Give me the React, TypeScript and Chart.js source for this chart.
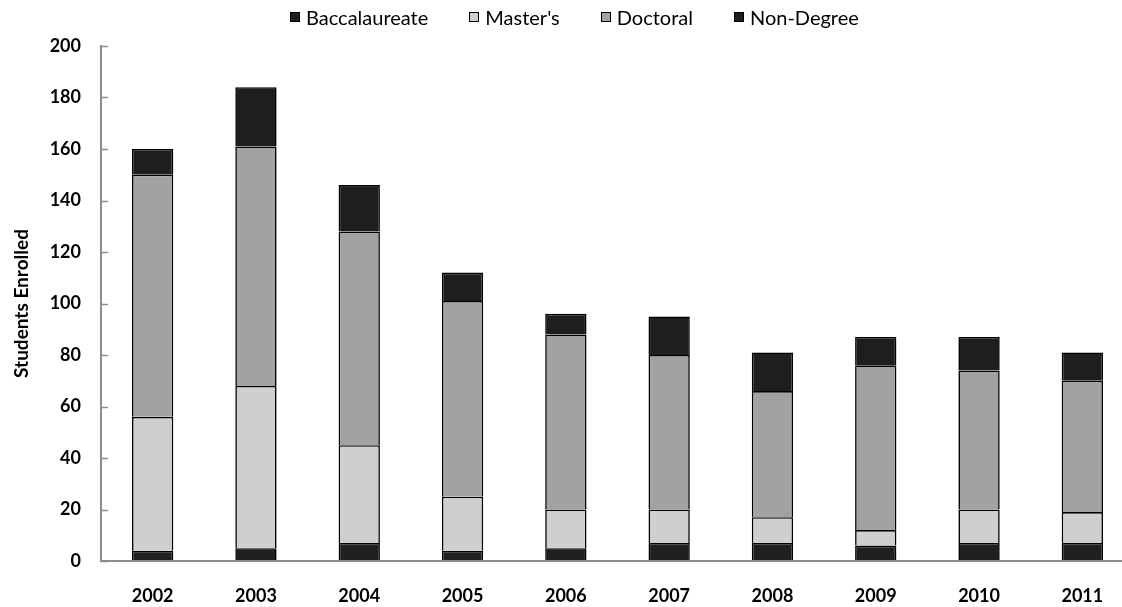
import React, { useEffect, useRef } from "react";
import { Chart, registerables } from "chart.js";

Chart.register(...registerables);

const years = ["2002", "2003", "2004", "2005", "2006", "2007", "2008", "2009", "2010", "2011"];
const baccalaureate = [4, 5, 7, 4, 5, 7, 7, 6, 7, 7];
const masters = [52, 63, 38, 21, 15, 13, 10, 6, 13, 12];
const doctoral = [94, 93, 83, 76, 68, 60, 49, 64, 54, 51];
const nonDegree = [10, 23, 18, 11, 8, 15, 15, 11, 13, 11];
const yTicks = [0, 20, 40, 60, 80, 100, 120, 140, 160, 180, 200];

const seriesNames = ["Baccalaureate", "Master's", "Doctoral", "Non-Degree"];
const seriesColors = ["#221f20", "#cfcfcf", "#a2a2a2", "#1e1e1e"];
const seriesData = [baccalaureate, masters, doctoral, nonDegree];

const FONT = "Lato, 'Open Sans', 'DejaVu Sans', sans-serif";

const innerTicks = {
  id: "innerTicks",
  afterDraw(chart: any) {
    const y = chart.scales.y;
    const ctx = chart.ctx;
    const left = chart.chartArea.left;
    ctx.save();
    ctx.strokeStyle = "#8c8c8c";
    ctx.lineWidth = 1.5;
    yTicks.forEach((v) => {
      const py = Math.round(y.getPixelForValue(v)) + 0.5;
      ctx.beginPath();
      ctx.moveTo(left, py);
      ctx.lineTo(left + 7, py);
      ctx.stroke();
    });
    ctx.restore();
  },
};

export default function App() {
  const ref = useRef<HTMLCanvasElement | null>(null);

  useEffect(() => {
    document.body.style.overflow = "hidden";
    const canvas = ref.current;
    if (!canvas) return;
    const chart = new Chart(canvas, {
      type: "bar",
      data: {
        labels: years,
        datasets: seriesNames.map((name, i) => ({
          label: name,
          data: seriesData[i],
          backgroundColor: seriesColors[i],
          borderColor: "#000000",
          borderWidth: 1.6,
          borderSkipped: "start",
          categoryPercentage: 1.0,
          barPercentage: 0.4,
        })),
      },
      options: {
        responsive: false,
        animation: false,
        maintainAspectRatio: false,
        layout: { padding: { top: 46, right: 26, left: 0, bottom: 0 } },
        plugins: {
          legend: { display: false },
          tooltip: { enabled: false },
        },
        scales: {
          x: {
            stacked: true,
            afterFit: (scale: any) => {
              scale.height = 46;
            },
            grid: { display: false, drawTicks: false },
            border: { display: true, color: "#8c8c8c", width: 2, z: 1 },
            ticks: {
              color: "#000",
              padding: 24,
              font: { family: FONT, size: 18, weight: "bold" },
            },
          },
          y: {
            stacked: true,
            min: 0,
            max: 200,
            afterFit: (scale: any) => {
              scale.width = 101;
            },
            afterBuildTicks: (scale: any) => {
              scale.ticks = yTicks.map((v) => ({ value: v }));
            },
            grid: { display: false, drawTicks: false },
            border: { display: true, color: "#8c8c8c", width: 2 },
            ticks: {
              color: "#000",
              padding: 20,
              font: { family: FONT, size: 18, weight: "bold" },
            },
            title: {
              display: true,
              text: "Students Enrolled",
              color: "#000",
              padding: { top: 10, bottom: 0 },
              font: { family: FONT, size: 19, weight: "bold" },
            },
          },
        },
      },
      plugins: [innerTicks],
    });
    return () => chart.destroy();
  }, []);

  return (
    <div style={{ position: "absolute", left: 0, top: 0, width: 1160, height: 607, background: "#fff" }}>
      <canvas ref={ref} width={1160} height={607} style={{ position: "absolute", left: 0, top: 0 }} />
      <div
        style={{
          position: "absolute",
          top: 5,
          left: 290,
          display: "flex",
          gap: 41,
          fontFamily: FONT,
          fontSize: 20,
          color: "#000",
          lineHeight: "24px",
          whiteSpace: "nowrap",
        }}
      >
        {seriesNames.map((name, i) => (
          <div key={name} style={{ display: "flex", alignItems: "center" }}>
            <span
              style={{
                display: "inline-block",
                width: 8,
                height: 8,
                border: "1px solid #000",
                background: seriesColors[i],
                marginRight: 6,
              }}
            />
            <span>{name}</span>
          </div>
        ))}
      </div>
    </div>
  );
}
